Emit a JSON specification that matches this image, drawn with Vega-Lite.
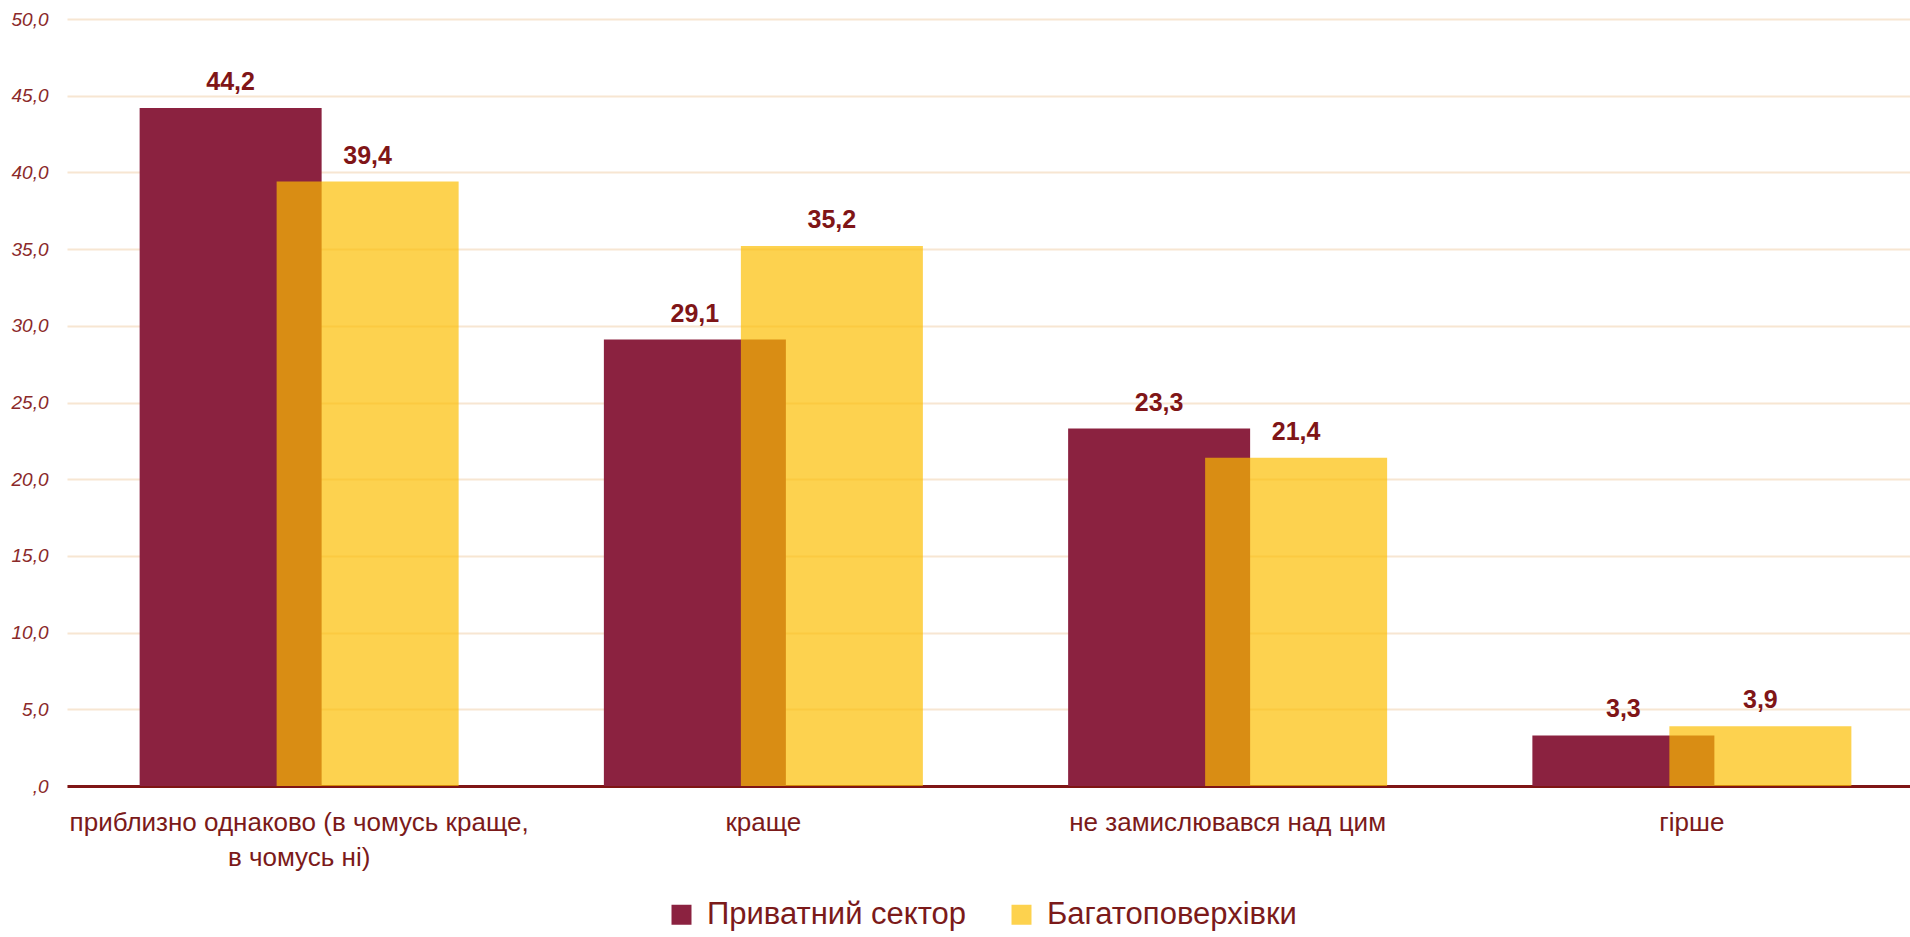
{
  "$schema": "https://vega.github.io/schema/vega-lite/v6.json",
  "autosize": {"type": "none"},
  "padding": {"left": 67, "top": 19, "right": 0, "bottom": 151},
  "width": 1843,
  "height": 767,
  "background": "#ffffff",
  "config": {
    "view": {"stroke": null},
    "font": "Liberation Sans",
    "locale": {"number": {"decimal": ",", "thousands": " ", "grouping": [3], "currency": ["", ""]}}
  },
  "data": {
    "values": [
      {"category": "приблизно однаково (в чомусь краще, в чомусь ні)", "series": "Приватний сектор", "value": 44.2},
      {"category": "приблизно однаково (в чомусь краще, в чомусь ні)", "series": "Багатоповерхівки", "value": 39.4},
      {"category": "краще", "series": "Приватний сектор", "value": 29.1},
      {"category": "краще", "series": "Багатоповерхівки", "value": 35.2},
      {"category": "не замислювався над цим", "series": "Приватний сектор", "value": 23.3},
      {"category": "не замислювався над цим", "series": "Багатоповерхівки", "value": 21.4},
      {"category": "гірше", "series": "Приватний сектор", "value": 3.3},
      {"category": "гірше", "series": "Багатоповерхівки", "value": 3.9}
    ]
  },
  "encoding": {
    "x": {
      "field": "category",
      "type": "nominal",
      "sort": null,
      "scale": {"range": [0, 1857], "paddingInner": 0, "paddingOuter": 0},
      "axis": {
        "title": null,
        "ticks": false,
        "labelAngle": 0,
        "labelFont": "Liberation Sans",
        "labelFontSize": 26,
        "labelColor": "#7B1A1A",
        "labelPadding": 23,
        "labelLineHeight": 35,
        "labelBaseline": "top",
        "labelLimit": 600,
        "domainColor": "#7F1515",
        "domainWidth": 3,
        "labelExpr": "datum.label == 'приблизно однаково (в чомусь краще, в чомусь ні)' ? ['приблизно однаково (в чомусь краще,', 'в чомусь ні)'] : datum.label"
      }
    },
    "y": {
      "field": "value",
      "type": "quantitative",
      "scale": {"domain": [0, 50], "nice": false},
      "axis": {
        "title": null,
        "values": [0, 5, 10, 15, 20, 25, 30, 35, 40, 45, 50],
        "ticks": false,
        "domain": false,
        "gridColor": "#F7E6D2",
        "gridWidth": 2,
        "labelFont": "Liberation Sans",
        "labelFontStyle": "italic",
        "labelFontSize": 19,
        "labelColor": "#8B2A2A",
        "labelPadding": 19,
        "labelExpr": "datum.value == 0 ? ',0' : format(datum.value, '.1f')"
      }
    }
  },
  "layer": [
    {
      "transform": [{"filter": "datum.series == 'Приватний сектор'"}],
      "mark": {"type": "bar", "width": 182, "xOffset": -68.5},
      "encoding": {
        "color": {
          "field": "series",
          "type": "nominal",
          "scale": {"domain": ["Приватний сектор", "Багатоповерхівки"], "range": ["#8B2240", "#FDD24E"]},
          "legend": {
            "title": null,
            "orient": "none",
            "direction": "horizontal",
            "legendX": 599,
            "legendY": 880,
            "symbolType": "square",
            "symbolSize": 400,
            "symbolStrokeWidth": 0,
            "labelFont": "Liberation Sans",
            "labelFontSize": 31,
            "labelColor": "#7B1A1A",
            "labelOffset": 10,
            "columnPadding": 39,
            "labelLimit": 400
          }
        }
      }
    },
    {
      "transform": [{"filter": "datum.series == 'Багатоповерхівки'"}],
      "mark": {"type": "bar", "width": 182, "xOffset": 68.5, "color": "#FCBE00", "opacity": 0.69}
    },
    {
      "transform": [{"filter": "datum.series == 'Приватний сектор'"}],
      "mark": {"type": "text", "xOffset": -68.5, "dy": -18, "baseline": "alphabetic", "fontSize": 25, "fontWeight": "bold", "font": "Liberation Sans", "color": "#7F1517"},
      "encoding": {"text": {"field": "value", "type": "quantitative", "format": ".1f"}}
    },
    {
      "transform": [{"filter": "datum.series == 'Багатоповерхівки'"}],
      "mark": {"type": "text", "xOffset": 68.5, "dy": -18, "baseline": "alphabetic", "fontSize": 25, "fontWeight": "bold", "font": "Liberation Sans", "color": "#7F1517"},
      "encoding": {"text": {"field": "value", "type": "quantitative", "format": ".1f"}}
    }
  ]
}
